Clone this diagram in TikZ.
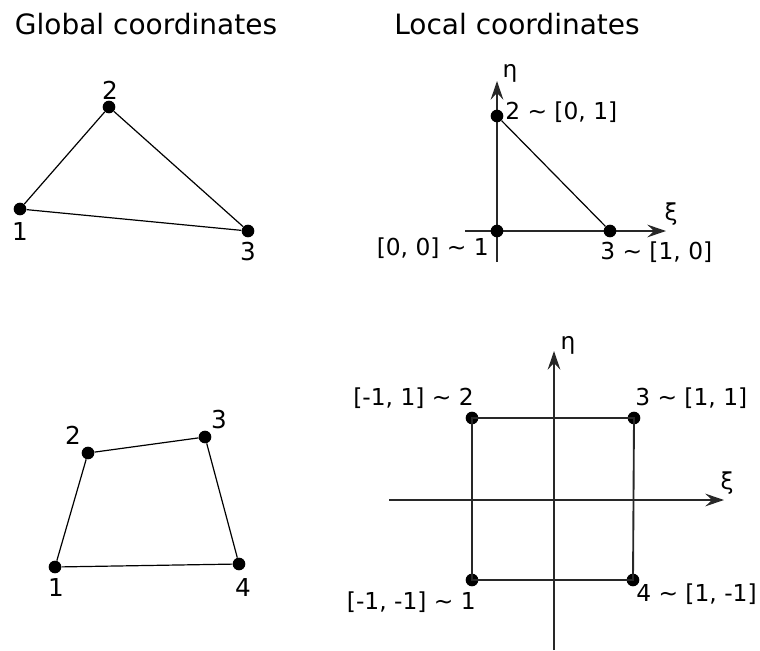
\documentclass[tikz,border=0pt]{standalone}
\usepackage{fontspec}
\setmainfont{DejaVu Sans}
\usetikzlibrary{arrows.meta,positioning}
\definecolor{AxisGray}{RGB}{40,40,40}
\newcommand{\tsim}{\textasciitilde}

\begin{document}
\begin{tikzpicture}[x=0.75pt,y=-0.75pt,
    vertex/.style={circle, fill=black, inner sep=0pt, minimum size=9.5pt},
    title/.style={inner sep=0pt, font=\fontsize{21}{25}\selectfont},
    numlbl/.style={inner sep=0pt, font=\fontsize{18.5}{22}\selectfont},
    loclbl/.style={inner sep=0pt, font=\fontsize{17.5}{21}\selectfont},
    axis/.style={AxisGray, line width=1.4pt, -{Stealth[length=14pt,width=9.5pt,inset=5pt]}},
    edge/.style={black, line width=0.9pt},
    frame/.style={AxisGray, line width=1.4pt}]
        \useasboundingbox (0,0) rectangle (760,650);
        % titles
        \node[title] (tglob) at (146,24) {Global coordinates};
        \node[title] (tloc) at (517,24) {Local coordinates};
        % global triangle
        \node[vertex] (g1) at (20,209) {};
        \node[vertex] (g2) at (109,107) {};
        \node[vertex] (g3) at (248,231) {};
        \draw[edge] (g1) -- (g2) -- (g3) -- (g1);
        \node[numlbl] (g1lbl) at (20,232) {1};
        \node[numlbl] (g2lbl) at (110,90) {2};
        \node[numlbl] (g3lbl) at (248,252) {3};
        % local triangle
        \coordinate (ta0) at (497,262); \coordinate (ta1) at (497,81);
        \coordinate (tb0) at (465,231); \coordinate (tb1) at (666,231);
        \draw[axis] (ta0) -- (ta1);
        \draw[axis] (tb0) -- (tb1);
        \node[loclbl] (teta) at (510,73) {η};
        \node[loclbl] (txi) at (671,214) {ξ};
        \node[vertex] (l1) at (497,231) {};
        \node[vertex] (l2) at (497,116) {};
        \node[vertex] (l3) at (610,231) {};
        \draw[edge] (l2) -- (l3);
        \node[loclbl, anchor=west] (l2lbl) at (505,112) {2 \tsim{} [0, 1]};
        \node[loclbl, anchor=east] (l1lbl) at (489,248) {[0, 0] \tsim{} 1};
        \node[loclbl, anchor=west] (l3lbl) at (600,252) {3 \tsim{} [1, 0]};
        % global quadrilateral
        \node[vertex] (q1) at (55,567) {};
        \node[vertex] (q2) at (88,453) {};
        \node[vertex] (q3) at (205,437) {};
        \node[vertex] (q4) at (239,564) {};
        \draw[edge] (q1) -- (q2) -- (q3) -- (q4) -- (q1);
        \node[numlbl] (q1lbl) at (56,587) {1};
        \node[numlbl] (q2lbl) at (73,435) {2};
        \node[numlbl] (q3lbl) at (219,420) {3};
        \node[numlbl] (q4lbl) at (243,587) {4};
        % local square
        \coordinate (sa0) at (554,650); \coordinate (sa1) at (554,351);
        \coordinate (sb0) at (389,500); \coordinate (sb1) at (724,500);
        \draw[axis] (sa0) -- (sa1);
        \draw[axis] (sb0) -- (sb1);
        \node[loclbl] (seta) at (568,345) {η};
        \node[loclbl] (sxi) at (727,483) {ξ};
        \node[vertex] (s1) at (472,580) {};
        \node[vertex] (s2) at (472,418) {};
        \node[vertex] (s3) at (634,418) {};
        \node[vertex] (s4) at (633,580) {};
        \draw[frame] (s1.center) -- (s2.center) -- (s3.center) -- (s4.center) -- cycle;
        \node[loclbl, anchor=east] (s2lbl) at (474,398) {[-1, 1] \tsim{} 2};
        \node[loclbl, anchor=west] (s3lbl) at (635,398) {3 \tsim{} [1, 1]};
        \node[loclbl, anchor=east] (s1lbl) at (476,602) {[-1, -1] \tsim{} 1};
        \node[loclbl, anchor=west] (s4lbl) at (636,594) {4 \tsim{} [1, -1]};
      \end{tikzpicture}
\end{document}
